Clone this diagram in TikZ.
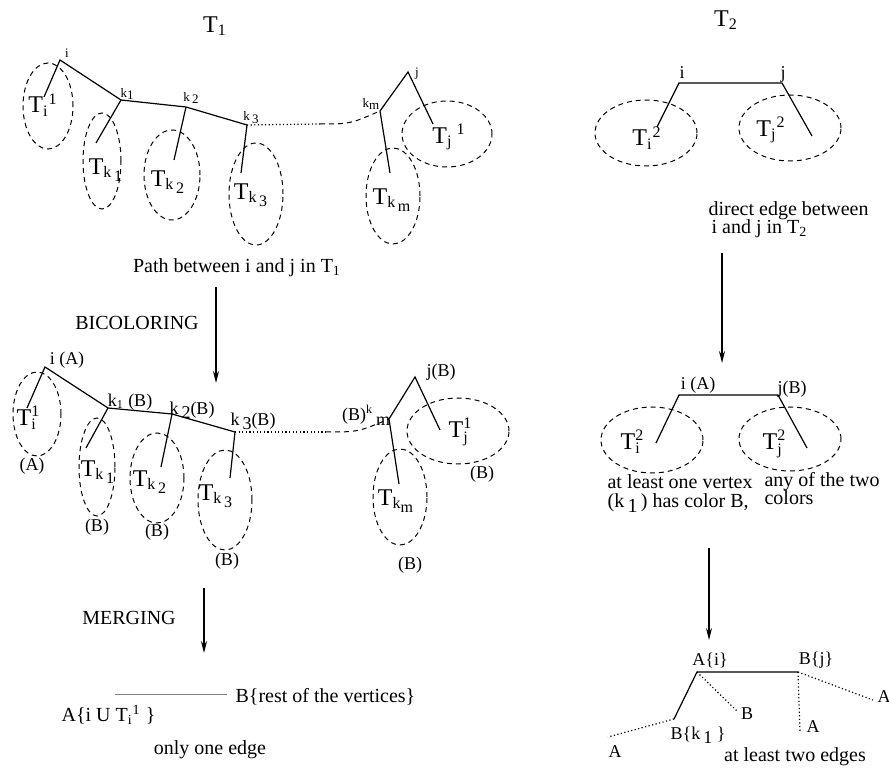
\documentclass[tikz,border=0pt]{standalone}
\usepackage{fontspec}
\setmainfont{Liberation Serif}
\usetikzlibrary{arrows.meta}
\newcommand\dn[1]{\raisebox{-.5ex}{#1}}
\newcommand\Tst[2]{T\rlap{\raisebox{-.4ex}{\fontsize{8}{8}\selectfont #1}}\raisebox{.8ex}{\fontsize{8}{8}\selectfont #2}}
\begin{document}
\begin{tikzpicture}[x=0.5pt, y=-0.5pt, line width=0.6pt,
  sm/.style={inner sep=0pt, font=\fontsize{6.5}{7}\selectfont},
  cl/.style={inner sep=0pt, font=\fontsize{9}{10}\selectfont},
  tx/.style={inner sep=0pt, font=\fontsize{10}{12}\selectfont},
  big/.style={inner sep=0pt, font=\fontsize{12}{14}\selectfont},
  sub/.style={dash pattern=on 2.5pt off 2pt, line width=0.5pt},
  dots/.style={dash pattern=on 0.6pt off 1.2pt},
  arr/.style={-{Stealth[length=6pt, width=3pt]}}]
\useasboundingbox (0,0) rectangle (889,769);
\node[big] (t1) at (215,26) {T\textsubscript{1}};
\coordinate (i) at (60,60);
\coordinate (k1) at (121,100);
\coordinate (k2) at (186,107);
\coordinate (k3) at (247,125);
\coordinate (g) at (320,124);
\coordinate (km) at (380,111);
\coordinate (j) at (408,72);
\coordinate (li) at (44,97);
\coordinate (lk1) at (96,143);
\coordinate (lk2) at (174,160);
\coordinate (lk3) at (241,173);
\coordinate (lkm) at (390,173);
\coordinate (lj) at (433,124);
\draw (li) -- (i) -- (k1) -- (k2) -- (k3);
\draw (k1) -- (lk1);
\draw (k2) -- (lk2);
\draw (k3) -- (lk3);
\draw[dots] (k3) -- (g);
\draw[sub] (g) .. controls (350,124) .. (km);
\draw (lkm) -- (km) -- (j) -- (lj);
\draw[sub] (48,106) ellipse [x radius=12.5pt, y radius=21.5pt];
\draw[sub] (102,161) ellipse [x radius=9.5pt, y radius=24pt];
\draw[sub] (172,175) ellipse [x radius=14pt, y radius=22.5pt];
\draw[sub] (256,194) ellipse [x radius=13.5pt, y radius=25.5pt];
\draw[sub] (393,196) ellipse [x radius=13.5pt, y radius=24pt];
\draw[sub] (447,134) ellipse [x radius=22.5pt, y radius=16.5pt];
\node[sm] (ni) at (67,53) {i};
\node[sm] (nk1) at (127,94) {k\dn{1}};
\node[sm] (nk2) at (191,98) {k\,\dn{2}};
\node[sm] (nk3) at (251,118) {k\,\dn{3}};
\node[sm] (nkm) at (371,104) {k\dn{m}};
\node[sm] (nj) at (417,74) {j};
\node[big] (ti1) at (43,105) {T\textsubscript{i}\textsuperscript{1}};
\node[big] (tk1) at (106,170) {T\textsubscript{k\,\dn{1}}};
\node[big] (tk2) at (168,182) {T\textsubscript{k\,\dn{2}}};
\node[big] (tk3) at (251,195) {T\textsubscript{k\,\dn{3}}};
\node[big] (tkm) at (392,200) {T\textsubscript{k\,\dn{m}}};
\node[big] (tj1) at (449,137) {T\textsubscript{j}\,\textsuperscript{1}};
\node[tx] (path) at (237,268) {Path between i and j in T\textsubscript{1}};
\node[tx] (bic) at (137,323) {BICOLORING};
\coordinate (s1) at (216,287);
\coordinate (e1) at (216,383);
\draw[arr] (s1) -- (e1);
\coordinate (bi) at (45,367);
\coordinate (bk1) at (108,408);
\coordinate (bk2) at (172,414);
\coordinate (bk3) at (235,432);
\coordinate (bg) at (326,432);
\coordinate (bkm) at (389,419);
\coordinate (bj) at (415,377);
\coordinate (bli) at (27,408);
\coordinate (blk1) at (86,448);
\coordinate (blk2) at (161,467);
\coordinate (blk3) at (230,478);
\coordinate (blkm) at (399,484);
\coordinate (blj) at (440,430);
\draw (bli) -- (bi) -- (bk1) -- (bk2) -- (bk3);
\draw (bk1) -- (blk1);
\draw (bk2) -- (blk2);
\draw (bk3) -- (blk3);
\draw[dots] (bk3) -- (bg);
\draw[sub] (bg) .. controls (358,432) .. (bkm);
\draw (blkm) -- (bkm) -- (bj) -- (blj);
\draw[sub] (37,414) ellipse [x radius=12pt, y radius=21pt];
\draw[sub] (97,467) ellipse [x radius=9pt, y radius=24.5pt];
\draw[sub] (157,478) ellipse [x radius=13.5pt, y radius=22.5pt];
\draw[sub] (225,500) ellipse [x radius=13.5pt, y radius=25pt];
\draw[sub] (400,497) ellipse [x radius=13.5pt, y radius=24pt];
\draw[sub] (458,431) ellipse [x radius=25.5pt, y radius=16.5pt];
\node[cl] (ci) at (67,360) {i (A)};
\node[cl] (ck1) at (130,402) {k\textsubscript{1} (B)};
\node[cl] (ck2) at (192,410) {k\,\dn{2}(B)};
\node[cl] (ck3) at (253,421) {k\,\dn{3}(B)};
\node[cl] (ckm) at (366,415) {(B)\textsuperscript{k}\,\dn{m}};
\node[cl] (cj) at (441,372) {j(B)};
\node[big] (ui1) at (28,418) {\Tst{i}{1}};
\node[big] (uk1) at (98,472) {T\textsubscript{k\,\dn{1}}};
\node[big] (uk2) at (150,482) {T\textsubscript{k\,\dn{2}}};
\node[big] (uk3) at (216,496) {T\textsubscript{k\,\dn{3}}};
\node[big] (ukm) at (396,501) {T\textsubscript{k\dn{m}}};
\node[big] (uj1) at (460,432) {\Tst{j}{1}};
\node[cl] (ca1) at (32,466) {(A)};
\node[cl] (cb1) at (97,527) {(B)};
\node[cl] (cb2) at (157,532) {(B)};
\node[cl] (cb3) at (227,561) {(B)};
\node[cl] (cbm) at (410,565) {(B)};
\node[cl] (cbj) at (482,474) {(B)};
\node[tx] (mer) at (129,618) {MERGING};
\coordinate (s2) at (204,588);
\coordinate (e2) at (204,653);
\draw[arr] (s2) -- (e2);
\coordinate (m1) at (115,695);
\coordinate (m2) at (227,695);
\draw[gray, line width=0.5pt] (m1) -- (m2);
\node[tx, anchor=west] (rest) at (235,697) {B\{rest of the vertices\}};
\node[tx, anchor=west] (aiu) at (61,715) {A\{i U T\textsubscript{i}\textsuperscript{1} \}};
\node[tx] (one) at (210,750) {only one edge};
\node[big] (t2) at (726,20) {T\textsubscript{2}};
\coordinate (ti) at (679,83);
\coordinate (tj) at (782,83);
\coordinate (tli) at (657,127);
\coordinate (tlj) at (812,136);
\draw (tli) -- (ti) -- (tj) -- (tlj);
\draw[sub] (646,133) ellipse [x radius=25.5pt, y radius=16.5pt];
\draw[sub] (790,128) ellipse [x radius=25.5pt, y radius=16.5pt];
\node[cl] (di) at (682,73) {i};
\node[cl] (dj) at (783,74) {j};
\node[big] (di2) at (647,138) {T\textsubscript{i}\textsuperscript{2}};
\node[big] (dj2) at (771,130) {T\textsubscript{j}\textsuperscript{2}};
\node[tx, anchor=west] (dir1) at (708,211) {direct edge between};
\node[tx, anchor=west] (dir2) at (711,229) {i and j in T\textsubscript{2}};
\coordinate (s3) at (722,253);
\coordinate (e3) at (722,363);
\draw[arr] (s3) -- (e3);
\coordinate (ri) at (679,395);
\coordinate (rj) at (778,395);
\coordinate (rli) at (656,443);
\coordinate (rlj) at (807,448);
\draw (rli) -- (ri) -- (rj) -- (rlj);
\draw[sub] (652,440) ellipse [x radius=25.5pt, y radius=16.5pt];
\draw[sub] (790,439) ellipse [x radius=25.5pt, y radius=16pt];
\node[cl] (ei) at (698,385) {i (A)};
\node[cl] (ej) at (792,389) {j(B)};
\node[big] (ei2) at (632,442) {\Tst{i}{2}};
\node[big] (ej2) at (774,444) {\Tst{j}{2}};
\node[tx, anchor=west] (least1) at (607,482) {at least one vertex};
\node[tx, anchor=west] (least2) at (607,503) {(k\,\dn{1}\,) has color B,};
\node[tx, anchor=west] (any1) at (764,482) {any of the two};
\node[tx, anchor=west] (any2) at (764,498) {colors};
\coordinate (s4) at (709,548);
\coordinate (e4) at (709,640);
\draw[arr] (s4) -- (e4);
\coordinate (ai) at (697,672);
\coordinate (bjj) at (798,672);
\coordinate (bkk) at (674,719);
\coordinate (la1) at (608,737);
\coordinate (lb1) at (738,712);
\coordinate (la2) at (800,732);
\coordinate (la3) at (873,700);
\draw (bkk) -- (ai) -- (bjj);
\draw[dots] (bkk) -- (la1);
\draw[dots] (ai) -- (lb1);
\draw[dots] (bjj) -- (la2);
\draw[dots] (bjj) -- (la3);
\node[cl] (fai) at (710,660) {A\{i\}};
\node[cl] (fbj) at (816,660) {B\{j\}};
\node[cl] (fbk) at (698,735) {B\{k\,\dn{1} \}};
\node[cl] (fa1) at (615,752) {A};
\node[cl] (fb1) at (747,714) {B};
\node[cl] (fa2) at (813,727) {A};
\node[cl] (fa3) at (884,697) {A};
\node[tx] (two) at (795,757) {at least two edges};
\end{tikzpicture}
\end{document}
